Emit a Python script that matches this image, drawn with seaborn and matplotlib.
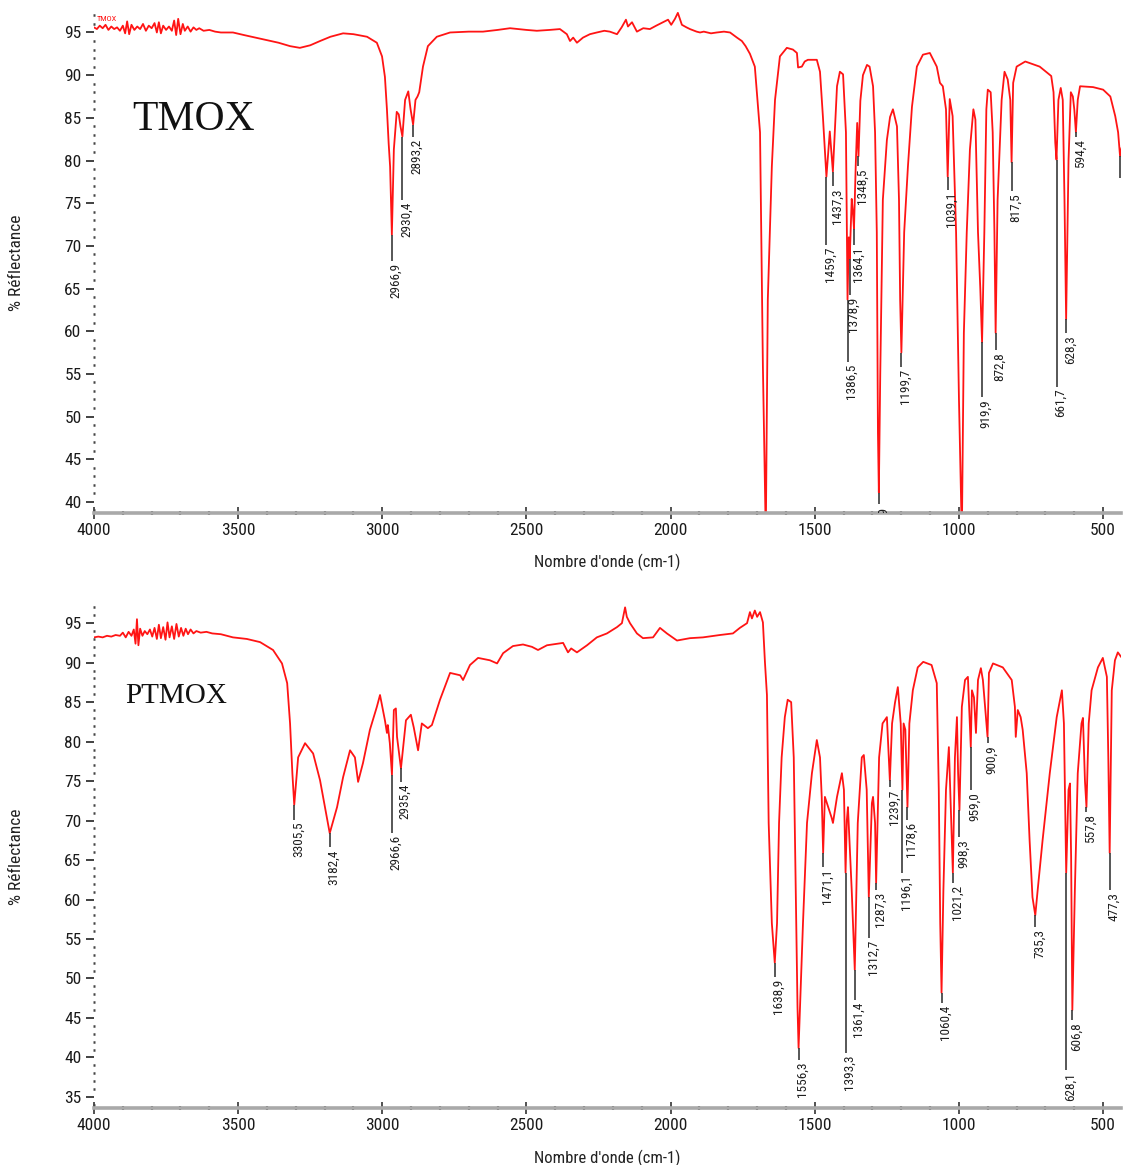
import numpy as np
import matplotlib
matplotlib.use("Agg")
import matplotlib.pyplot as plt
import matplotlib.font_manager as fm
import matplotlib.transforms as mtransforms
from matplotlib.ticker import MultipleLocator
import seaborn as sns

# ---------------------------------------------------------------- data
# TMOX spectrum: wavenumber (cm-1) and reflectance (%)
tmox_wn = [4000, 3990, 3980, 3970, 3960, 3950, 3940, 3930, 3920, 3910, 3900, 3892,
           3885, 3878, 3870, 3860, 3850, 3840, 3830, 3820, 3810, 3800, 3790, 3782,
           3775, 3768, 3760, 3750, 3740, 3730, 3722, 3715, 3708, 3700, 3692, 3685,
           3675, 3665, 3655, 3645, 3635, 3620, 3600, 3580, 3560, 3518, 3480, 3440,
           3400, 3360, 3320, 3286, 3250, 3216, 3180, 3136, 3100, 3053, 3019, 3001,
           2991, 2984, 2978, 2973, 2966.9, 2960, 2950, 2943, 2937, 2930.4, 2921,
           2910, 2902, 2893.2, 2885, 2878, 2872, 2859, 2842, 2811, 2765, 2700, 2651,
           2600, 2557, 2500, 2464, 2420, 2384, 2360, 2349, 2338, 2325, 2304, 2280,
           2256, 2230, 2211, 2186, 2170, 2155, 2148, 2134, 2117, 2095, 2072, 2050,
           2027, 2009, 1998, 1985, 1975, 1961, 1945, 1933, 1910, 1898, 1885, 1860,
           1840, 1815, 1794, 1770, 1753, 1740, 1725, 1708, 1690, 1680, 1670, 1663,
           1649, 1638, 1621, 1597, 1576, 1562, 1558, 1545, 1535, 1524, 1493, 1482,
           1472, 1459.7, 1448, 1437.3, 1423, 1413, 1402, 1392, 1386.5, 1382, 1378.9,
           1372, 1368, 1364.1, 1358, 1353, 1348.5, 1342, 1333, 1319, 1310, 1298,
           1291, 1285, 1281, 1277.9, 1273, 1264, 1250, 1239, 1229, 1215, 1208, 1204,
           1199.7, 1190, 1177, 1163, 1146, 1125, 1101, 1077, 1066, 1056, 1045,
           1039.1, 1032, 1022, 1010, 1000, 990, 983, 973, 962, 950, 943, 934, 926,
           919.9, 912, 905, 900, 890, 883, 877, 872.8, 866, 852, 842, 831, 822,
           817.5, 812, 800, 770, 720, 680, 672, 666, 661.7, 655, 647, 640, 634,
           628.3, 620, 612, 605, 600, 594.4, 588, 580, 535, 500, 475, 458, 448,
           441.3, 436]
tmox_r = [95.6, 95.4, 95.8, 95.5, 95.9, 95.3, 95.7, 95.4, 95.6, 95.2, 95.8, 94.9,
          96.3, 94.8, 95.9, 95.3, 95.7, 95.4, 96.0, 95.2, 95.8, 95.5, 96.1, 95.0,
          96.2, 94.9, 95.8, 95.3, 95.7, 95.2, 96.4, 94.7, 96.6, 94.8, 96.0, 95.2,
          95.7, 95.1, 95.6, 95.3, 95.5, 95.2, 95.3, 95.1, 95.0, 95.0, 94.7, 94.4,
          94.1, 93.8, 93.4, 93.2, 93.5, 94.0, 94.5, 94.9, 94.8, 94.5, 93.8, 92.2,
          89.8, 86.0, 82.0, 79.3, 71.3, 81.3, 85.7, 85.4, 84.0, 82.8, 87.1,
          88.1, 86.0, 84.2, 87.1, 87.5, 88.0, 91.0, 93.4, 94.5, 95.0, 95.1, 95.1,
          95.3, 95.5, 95.3, 95.2, 95.3, 95.4, 94.8, 94.0, 94.4, 93.8, 94.4, 94.8,
          95.0, 95.2, 95.1, 94.8, 95.6, 96.5, 95.7, 96.2, 95.1, 95.5, 95.4, 95.8,
          96.2, 96.5, 95.9, 96.6, 97.3, 95.9, 95.6, 95.4, 95.1, 95.0, 95.1, 94.9,
          95.0, 95.1, 95.0, 94.4, 94.0, 93.4, 92.5, 91.0, 83.3, 55.8, 36.0, 63.7,
          79.3, 87.1, 92.2, 93.2, 93.0, 92.6, 90.9, 91.0, 91.6, 91.8, 91.8, 90.4,
          85.2, 78.1, 83.4, 78.7, 88.7, 90.4, 90.1, 83.3, 63.7, 71.0, 68.5,
          75.5, 74.0, 72.0, 79.5, 84.4, 80.5, 87.0, 90.0, 91.2, 91.0, 88.7,
          83.3, 71.6, 48.1, 41.1, 55.0, 75.4, 82.4, 85.1, 86.0, 84.0, 75.4, 63.7,
          57.5, 71.6, 79.3, 86.3, 91.0, 92.4, 92.6, 91.0, 89.1, 88.7, 86.0,
          78.1, 87.2, 85.2, 71.6, 52.0, 36.0, 59.8, 71.6, 81.3, 86.0, 84.8, 71.6, 65.0,
          58.7, 71.6, 86.0, 88.3, 88.0, 83.3, 71.6, 59.8, 75.4, 87.1, 90.4, 89.5, 87.1,
          79.8, 89.1, 91.0, 91.6, 91.0, 89.9, 88.0, 82.1, 80.1, 87.1, 88.5, 87.1, 75.4,
          61.4, 80.0, 88.0, 87.5, 86.0, 83.3, 87.1, 88.7, 88.6, 88.3, 87.5, 85.2, 83.3,
          80.5, 81.5]

# PTMOX spectrum
ptmox_wn = [4000, 3985, 3970, 3955, 3940, 3925, 3910, 3900, 3890, 3880, 3870, 3862,
            3856, 3851, 3846, 3840, 3832, 3824, 3815, 3806, 3798, 3790, 3782, 3775,
            3768, 3760, 3752, 3745, 3738, 3730, 3722, 3714, 3706, 3698, 3690, 3682,
            3674, 3665, 3655, 3645, 3630, 3610, 3590, 3560, 3518, 3470, 3424, 3379,
            3348, 3330, 3320, 3312, 3305.5, 3292, 3268, 3240, 3216, 3199, 3182.4,
            3157, 3136, 3112, 3095, 3084, 3067, 3043, 3019, 3008, 2991, 2984, 2981,
            2974, 2966.6, 2960, 2953, 2949, 2935.4, 2918, 2901, 2891, 2876, 2863,
            2842, 2828, 2800, 2765, 2730, 2720, 2696, 2668, 2627, 2602, 2581, 2547,
            2512, 2481, 2460, 2429, 2373, 2356, 2345, 2325, 2290, 2256, 2221, 2186,
            2169, 2162, 2158, 2152, 2141, 2117, 2096, 2061, 2037, 2013, 1978, 1933,
            1888, 1829, 1784, 1760, 1735, 1725, 1718, 1708, 1700, 1690, 1680, 1673,
            1666, 1660, 1649, 1638.9, 1631, 1624, 1615, 1604, 1594, 1582, 1573, 1566,
            1560, 1556.3, 1541, 1527, 1510, 1493, 1482, 1476, 1471.1, 1465, 1458,
            1442, 1437, 1423, 1406, 1399, 1393.3, 1389, 1385, 1372, 1361.4, 1351,
            1337, 1330, 1320, 1312.7, 1302, 1298, 1291, 1287.3, 1277, 1265, 1250,
            1239.7, 1232, 1222, 1212, 1202, 1196.1, 1192, 1186, 1178.6, 1172, 1160,
            1143, 1124, 1095, 1077, 1070, 1065, 1060.4, 1054, 1045, 1035, 1021.2,
            1014, 1007, 1003, 998.3, 990, 979, 969, 959.0, 955, 948, 941, 934, 924,
            917, 900.9, 896, 882, 848, 817, 806, 803, 796, 786, 779, 765, 755, 745,
            735.3, 727, 710, 685, 661, 643, 636, 633, 628.1, 620, 615, 611, 606.8,
            598, 588, 575, 570, 563, 557.8, 550, 540, 518, 501, 487, 482, 477.3,
            470, 459, 449, 437]
ptmox_r = [93.2, 93.3, 93.2, 93.4, 93.3, 93.5, 93.4, 93.8, 93.2, 93.9, 93.4, 94.2,
           92.4, 95.5, 92.2, 94.3, 93.4, 94.0, 93.6, 94.2, 93.3, 94.4, 93.0, 94.8,
           93.1, 94.5, 92.9, 95.1, 93.2, 94.6, 93.0, 94.9, 93.3, 94.4, 93.4, 94.3,
           93.6, 94.2, 93.7, 94.0, 93.8, 93.9, 93.7, 93.6, 93.2, 93.0, 92.6, 91.6,
           89.9, 87.4, 82.3, 76.0, 72.0, 78.0, 79.8, 78.5, 75.1, 71.7, 68.4,
           71.7, 75.5, 78.9, 78.0, 74.9, 77.3, 81.5, 84.4, 85.9, 82.7, 81.1, 82.1,
           79.8, 75.8, 84.0, 84.2, 80.6, 76.6, 82.7, 83.4, 81.8, 78.9, 82.3,
           81.7, 82.1, 85.3, 88.7, 88.4, 87.8, 89.7, 90.6, 90.3, 89.9, 91.2, 92.1,
           92.3, 92.0, 91.6, 92.2, 92.5, 91.3, 91.8, 91.3, 92.2, 93.2, 93.7, 94.5,
           95.0, 96.3, 97.0, 95.8, 95.0, 93.7, 93.1, 93.2, 94.4, 93.7, 92.8, 93.1,
           93.2, 93.5, 93.7, 94.4, 95.0, 96.4, 95.6, 96.6, 95.8, 96.4, 95.1, 90.1,
           85.9, 69.7, 57.0, 52.0, 57.0, 69.7, 78.0, 83.1, 85.3, 85.0, 78.0, 61.2,
           46.4, 41.2, 57.0, 69.7, 76.0, 80.2, 78.0, 73.0, 65.9, 73.0, 72.2,
           70.4, 69.7, 73.0, 76.0, 73.9, 63.4, 70.0, 71.7, 61.2, 51.1, 69.7,
           78.0, 78.3, 73.9, 60.3, 72.2, 73.0, 69.7, 62.1, 78.0, 82.3, 83.1,
           75.1, 82.3, 84.9, 86.9, 82.3, 73.9, 82.3, 81.5, 71.7, 82.3, 86.5,
           89.4, 90.1, 89.7, 87.4, 73.9, 57.0, 48.2, 61.2, 73.9, 79.3, 63.4,
           78.0, 83.1, 76.0, 71.3, 84.4, 87.8, 88.2, 79.3, 86.5, 85.6, 81.1, 87.8, 89.3,
           87.8, 80.6, 88.7, 89.9, 89.4, 87.8, 84.4, 80.6, 84.0, 83.1, 81.5, 76.0, 67.5, 60.3,
           58.0, 61.2, 67.5, 76.0, 83.1, 86.5, 82.3, 75.0, 63.4, 73.9, 74.7, 65.4, 46.0,
           61.2, 76.0, 82.3, 83.0, 75.0, 71.7, 82.3, 86.5, 89.4, 90.6, 88.2, 78.0, 65.9,
           86.5, 90.3, 91.3, 90.7]

# Labelled peaks and the level where each label hangs
tmox_peaks = [2966.9, 2930.4, 2893.2, 1459.7, 1437.3, 1386.5, 1378.9, 1364.1,
              1348.5, 1277.9, 1199.7, 1039.1, 919.9, 872.8, 817.5, 661.7, 628.3,
              594.4, 441.3]
tmox_label_end = [68.2, 75.4, 82.8, 70.1, 77.0, 56.4, 64.3, 70.1,
                  79.3, 39.7, 55.8, 76.6, 52.3, 57.8, 76.4, 53.5, 59.8,
                  82.8, 78.0]

ptmox_peaks = [3305.5, 3182.4, 2966.6, 2935.4, 1638.9, 1556.3, 1471.1, 1393.3,
               1361.4, 1312.7, 1287.3, 1239.7, 1196.1, 1178.6, 1060.4, 1021.2,
               998.3, 959.0, 900.9, 735.3, 628.1, 606.8, 557.8, 477.3]
ptmox_label_end = [70.1, 66.6, 68.4, 74.9, 50.2, 39.7, 64.1, 40.6,
                   47.3, 55.1, 61.2, 74.2, 63.4, 70.1, 46.9, 62.1,
                   67.9, 73.9, 79.8, 56.5, 38.4, 44.7, 71.1, 61.2]

x_ticks = [4000, 3500, 3000, 2500, 2000, 1500, 1000, 500]
WN_RIGHT = 438

# ---------------------------------------------------------------- style
sns.set_style("white")
available = {f.name for f in fm.fontManager.ttflist}
narrow = next((n for n in ("Liberation Sans Narrow", "Arial Narrow", "Roboto Condensed",
                           "Open Sans Condensed") if n in available), "DejaVu Sans")
serif = "Liberation Serif" if "Liberation Serif" in available else "DejaVu Serif"
plt.rcParams["font.family"] = [narrow, "DejaVu Sans"]
plt.rcParams["font.stretch"] = "condensed"

RED = "#ff1414"
LEAD = "#3a3a3a"

fig = plt.figure(figsize=(11.23, 11.65), dpi=100)
W, H = 1123, 1165
ax_top = fig.add_axes([94 / W, 1 - 513 / H, 1027 / W, 501 / H])
ax_bot = fig.add_axes([94 / W, 1 - 1108 / H, 1027 / W, 503 / H])


def style_axes(ax, ylim, yticks):
    ax.set_xlim(4000, WN_RIGHT)
    ax.set_ylim(*ylim)
    for s in ("top", "right", "left"):
        ax.spines[s].set_visible(False)
    ax.spines["bottom"].set_color("#a9a9a9")
    ax.spines["bottom"].set_linewidth(2.6)
    ax.set_xticks(x_ticks)
    ax.set_xticklabels([str(t) for t in x_ticks])
    ax.xaxis.set_minor_locator(MultipleLocator(100))
    ax.set_yticks(yticks)
    ax.set_yticklabels([str(t) for t in yticks])
    ax.yaxis.set_minor_locator(MultipleLocator(1))
    ax.tick_params(axis="x", which="major", direction="inout", length=9, width=1.2,
                   color="#333333", labelsize=12.5, labelcolor="#1a1a1a", pad=3, bottom=True)
    ax.tick_params(axis="x", which="minor", direction="inout", length=3, width=1.6,
                   color="#333333", bottom=True)
    ax.tick_params(axis="y", which="major", direction="out", length=6, width=1.3,
                   color="#333333", labelsize=12.5, labelcolor="#1a1a1a", pad=3, left=True)
    ax.tick_params(axis="y", which="minor", direction="inout", length=2, width=1.8,
                   color="#444444", left=True)
    ax.set_xlabel("Nombre d'onde (cm-1)", fontsize=12, color="#222222")
    ax.set_ylabel("% Réflectance", fontsize=12.5, color="#222222")
    ax.xaxis.set_label_coords(0.5, -0.082)
    ax.yaxis.set_label_coords(-0.068, 0.5)
    ax.grid(False)


def draw_spectrum(ax, wn, r, peaks, ends):
    sns.lineplot(x=wn, y=r, ax=ax, color=RED, lw=1.3, estimator=None, sort=False)
    wn_a = np.asarray(wn)[::-1]
    r_a = np.asarray(r)[::-1]
    txt_tr = mtransforms.offset_copy(ax.transData, fig=fig, x=4, y=-2, units="dots")
    for p, e in zip(peaks, ends):
        v = float(np.interp(p, wn_a, r_a))
        ax.plot([p, p], [v, e], color=LEAD, lw=1.2, solid_capstyle="butt")
        # a label too close to the right border would run off the plot
        if p - WN_RIGHT > 20:
            ax.text(p, e, f"{p:.1f}".replace(".", ","), transform=txt_tr, rotation=90,
                    ha="center", va="top", fontsize=9.5, color="#1e1e1e", clip_on=True)


style_axes(ax_top, (38.7, 97.4), list(range(40, 100, 5)))
style_axes(ax_bot, (33.6, 97.3), list(range(35, 100, 5)))

draw_spectrum(ax_top, tmox_wn, tmox_r, tmox_peaks, tmox_label_end)
draw_spectrum(ax_bot, ptmox_wn, ptmox_r, ptmox_peaks, ptmox_label_end)

# sample names
ax_top.text(0.003, 0.992, "TMOX", transform=ax_top.transAxes, fontsize=6,
            color=RED, ha="left", va="top")
ax_top.text(0.037, 0.764, "TMOX", transform=ax_top.transAxes, fontsize=30,
            family=serif, color="#111111", ha="left", va="baseline")
ax_bot.text(0.030, 0.805, "PTMOX", transform=ax_bot.transAxes, fontsize=21,
            family=serif, color="#111111", ha="left", va="baseline")

fig.savefig("out.png", dpi=100, facecolor="white")
